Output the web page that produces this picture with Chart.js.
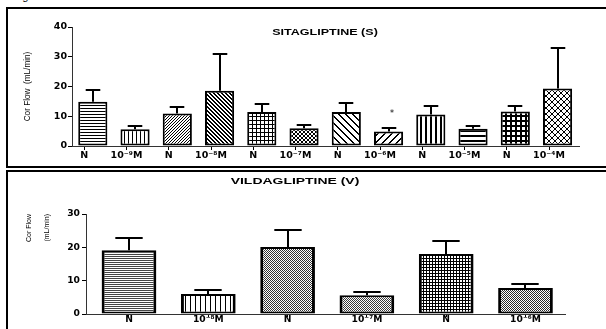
<!DOCTYPE html>
<html><head><meta charset="utf-8">
<script src="https://cdn.jsdelivr.net/npm/chart.js@4.4.1/dist/chart.umd.min.js"></script>
<style>
html,body{margin:0;padding:0;background:#fff;width:606px;height:329px;overflow:hidden;position:relative;font-family:'Liberation Sans',Arial,sans-serif;}
canvas{position:absolute;left:0;}
#c1{top:0;}
#c2{top:168px;}
.panel{position:absolute;border:2.5px solid #000;box-sizing:border-box;pointer-events:none;}
.ttl{position:absolute;font-weight:bold;white-space:nowrap;color:#000;line-height:1;font-family:'Liberation Sans',Arial,sans-serif;}
</style></head><body>
<div style="position:absolute;left:13px;top:-8.6px;font-size:11px;line-height:11px;">Fig</div>
<canvas id="c1" width="606" height="166"></canvas>
<canvas id="c2" width="606" height="161"></canvas>
<div class="panel" style="left:6px;top:7px;width:610px;height:161px;"></div>
<div class="panel" style="left:6px;top:169.5px;width:610px;height:200px;"></div>
<div class="ttl" style="left:325px;top:32px;font-size:9.5px;transform:translate(-50%,-50%) scaleX(1.32);">SITAGLIPTINE (S)</div>
<div class="ttl" style="left:295px;top:181px;font-size:9px;transform:translate(-50%,-50%) scaleX(1.55);">VILDAGLIPTINE (V)</div>
<script>
// ---- Data: Sitagliptine panel ----
const catS = ['N','10⁻⁹M','N','10⁻⁸M','N','10⁻⁷M','N','10⁻⁶M','N','10⁻⁵M','N','10⁻⁴M'];
const meanS = [14.9, 5.6, 10.9, 18.6, 11.4, 6.0, 11.4, 4.9, 10.6, 5.8, 11.6, 19.3];
const semS  = [4.0, 1.0, 2.1, 12.2, 2.8, 0.9, 3.0, 1.0, 2.9, 1.0, 2.0, 13.5];
const sigS  = ['', '', '', '', '', '', '', '*', '', '', '', ''];
const yMaxS = 40;
// ---- Data: Vildagliptine panel ----
const catV = ['N','10⁻⁸M','N','10⁻⁷M','N','10⁻⁶M'];
const meanV = [19.1, 6.0, 20.1, 5.6, 18.0, 7.8];
const semV  = [3.7, 1.2, 5.0, 0.9, 4.0, 1.2];
const sigV  = ['', '', '', '', '', ''];
const yMaxV = 30;
const yStep = 10;

Chart.defaults.color = '#000';

function mkPat(w, h, fn, col) {
  const c = document.createElement('canvas'); c.width = w; c.height = h;
  const g = c.getContext('2d');
  g.fillStyle = '#fff'; g.fillRect(0, 0, w, h);
  g.fillStyle = col || '#000';
  fn(g, w, h);
  return g.createPattern(c, 'repeat');
}
const P = {
  h: (s, t, c) => mkPat(1, s, g => g.fillRect(0, 0, 1, t), c),
  v: (s, t, c) => mkPat(s, 1, g => g.fillRect(0, 0, t, 1), c),
  grid: (s, t, c) => mkPat(s, s, g => { g.fillRect(0, 0, s, t); g.fillRect(0, 0, t, s); }, c),
  diag: (s, t, dir, c) => mkPat(s, s, g => { for (let i = 0; i < s; i++) for (let k = 0; k < t; k++) g.fillRect((i + k) % s, dir > 0 ? (s - 1 - i) : i, 1, 1); }, c),
  cross: (s, t, c) => mkPat(s, s, g => { for (let i = 0; i < s; i++) for (let k = 0; k < t; k++) { g.fillRect((i + k) % s, i, 1, 1); g.fillRect((i + k) % s, s - 1 - i, 1, 1); } }, c),
  checker: (c) => mkPat(2, 2, g => { g.fillRect(0, 0, 1, 1); g.fillRect(1, 1, 1, 1); }, c)
};

const fillS = [P.h(3,1), P.v(4,1), P.diag(3,1,1), P.diag(4,2,-1), P.grid(4,1), P.cross(4,1),
               P.diag(7,2,-1), P.diag(7,2,1), P.v(5,2), P.h(5,2), P.grid(5,2), P.cross(6,1)];
const fillV = [P.h(2,1,'#444'), P.v(5,1), P.checker('#333'), P.checker('#3a3a3a'), P.grid(3,1), P.checker('#2a2a2a')];

const errPlugin = {
  id: 'errbars',
  afterDatasetsDraw(chart, args, o) {
    const ctx = chart.ctx, meta = chart.getDatasetMeta(0), ys = chart.scales.y;
    ctx.save();
    ctx.strokeStyle = '#000'; ctx.fillStyle = '#000'; ctx.lineWidth = 2;
    meta.data.forEach((el, i) => {
      const x = Math.round(el.x);
      const top = Math.round(ys.getPixelForValue(o.means[i] + o.errors[i]));
      const w = el.width * 0.5;
      ctx.beginPath();
      ctx.moveTo(x, el.y); ctx.lineTo(x, top);
      ctx.moveTo(x - w / 2, top); ctx.lineTo(x + w / 2, top);
      ctx.stroke();
      if (o.marks[i]) {
        ctx.font = '8px "DejaVu Sans"'; ctx.textAlign = 'center'; ctx.textBaseline = 'middle';
        ctx.fillText(o.marks[i], x + 3, top - 14);
      }
    });
    ctx.restore();
  }
};

function build(canvas, o) {
  const idx = o.cats.map((_, i) => i);
  const intTicks = s => { s.ticks = idx.map(v => ({ value: v })); };
  return new Chart(canvas, {
    type: 'bar',
    data: {
      datasets: [{
        data: o.means.map((v, i) => ({ x: i, y: v })),
        backgroundColor: o.fills, borderColor: '#000', borderWidth: o.bw,
        borderSkipped: false, xAxisID: 'xb', yAxisID: 'y',
        categoryPercentage: 1, barPercentage: 0.69
      }]
    },
    options: {
      responsive: false, animation: false, devicePixelRatio: 1,
      layout: { padding: o.pad },
      plugins: {
        legend: { display: false }, tooltip: { enabled: false }, title: { display: false },
        errbars: { means: o.means, errors: o.errs, marks: o.marks }
      },
      scales: {
        xb: { type: 'linear', display: false, offset: false, min: o.barMin, max: o.barMax, afterBuildTicks: intTicks },
        x: {
          type: 'linear', position: 'bottom', offset: false, min: o.lblMin, max: o.lblMax,
          afterBuildTicks: intTicks,
          ticks: { callback: v => o.cats[v], autoSkip: false, maxRotation: 0, minRotation: 0,
                   padding: o.xPad, color: '#000',
                   font: { family: 'DejaVu Sans', weight: 'bold', size: o.xFont } },
          grid: { drawOnChartArea: false, drawTicks: true, tickLength: o.xTick, color: '#000', offset: false },
          border: { display: true, color: '#333', width: 1 },
          afterFit: s => { s.height = o.xh; }
        },
        y: {
          min: 0, max: o.yMax,
          ticks: { stepSize: yStep, padding: o.yPad, color: '#000',
                   font: { family: 'DejaVu Sans', weight: 'bold', size: o.yFont } },
          grid: { drawOnChartArea: false, drawTicks: true, tickLength: 4, color: '#000' },
          border: { display: true, color: '#333', width: 1 },
          title: o.yTitle,
          afterFit: s => { s.width = o.yw; }
        }
      }
    },
    plugins: [errPlugin]
  });
}

build(document.getElementById('c1'), {
  cats: catS, means: meanS, errs: semS, marks: sigS, fills: fillS, bw: 2,
  pad: { left: 0, top: 27, right: 27, bottom: 0 },
  barMin: -0.4923, barMax: 11.5077, lblMin: -0.2911, lblMax: 11.7089,
  xPad: 0, xFont: 9.5, xTick: 4, xh: 20,
  yMax: yMaxS, yPad: 1, yFont: 9.5, yw: 72,
  yTitle: { display: true, text: 'Cor Flow  (mL/min)', color: '#000', align: 'center',
            font: { family: 'Liberation Sans', size: 8.2 }, padding: { top: 22.5, bottom: 0 } }
});

build(document.getElementById('c2'), {
  cats: catV, means: meanV, errs: semV, marks: sigV, fills: fillV,
  bw: { top: 2, bottom: 2, left: 3, right: 3 },
  pad: { left: 0, top: 46, right: 41, bottom: 0 },
  barMin: -0.5422, barMax: 5.4982, lblMin: -0.5422, lblMax: 5.4982,
  xPad: -2.5, xFont: 9.2, xTick: 3, xh: 15,
  yMax: yMaxV, yPad: 2, yFont: 9.2, yw: 86,
  yTitle: { display: true, text: ['Cor Flow', '(mL/min)'], color: '#000', align: 'end',
            font: { family: 'Liberation Sans', size: 7, lineHeight: '17.5px' }, padding: { top: 20.75, bottom: 0 } }
});
</script>
</body></html>
